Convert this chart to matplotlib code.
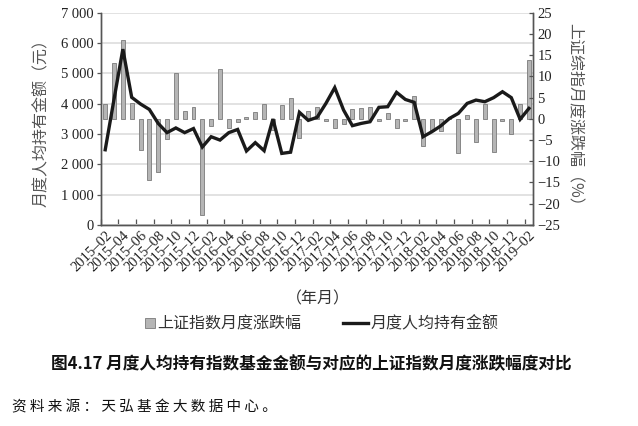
import numpy as np
import matplotlib
matplotlib.use("Agg")
import matplotlib.pyplot as plt
import matplotlib.patches as mpatches
from matplotlib.lines import Line2D
from matplotlib.legend_handler import HandlerPatch

CJK = ["Noto Sans CJK SC", "DejaVu Sans"]
SERIF = ["Liberation Serif", "DejaVu Serif"]
plt.rcParams["font.family"] = SERIF
plt.rcParams["axes.unicode_minus"] = True

# ── Data ──────────────────────────────────────────────────────────────────────
months = [
    "2015–02", "2015–03", "2015–04", "2015–05", "2015–06", "2015–07", "2015–08",
    "2015–09", "2015–10", "2015–11", "2015–12", "2016–01", "2016–02", "2016–03",
    "2016–04", "2016–05", "2016–06", "2016–07", "2016–08", "2016–09", "2016–10",
    "2016–11", "2016–12", "2017–01", "2017–02", "2017–03", "2017–04", "2017–05",
    "2017–06", "2017–07", "2017–08", "2017–09", "2017–10", "2017–11", "2017–12",
    "2018–01", "2018–02", "2018–03", "2018–04", "2018–05", "2018–06", "2018–07",
    "2018–08", "2018–09", "2018–10", "2018–11", "2018–12", "2019–01", "2019–02",
]
# 上证指数月度涨跌幅 (%)
index_pct = [3.4, 13.2, 18.5, 3.8, -7.3, -14.3, -12.5, -4.8, 10.8, 1.9, 2.7, -22.6,
             -1.8, 11.8, -2.2, -0.7, 0.4, 1.7, 3.6, -2.6, 3.3, 4.9, -4.6, 1.8,
             2.7, -0.6, -2.1, -1.2, 2.4, 2.5, 2.7, -0.4, 1.3, -2.2, -0.4, 5.3,
             -6.4, -2.8, -2.8, 0.4, -8.0, 1.0, -5.4, 3.6, -7.8, -0.6, -3.6, 3.6, 13.8]
# 月度人均持有金额 (元)
avg_holding = [2480, 4150, 5800, 4210, 3990, 3810, 3350, 3045, 3200, 3045, 3180, 2570,
               2910, 2800, 3045, 3150, 2440, 2715, 2450, 3495, 2360, 2400, 3715, 3450,
               3550, 4010, 4530, 3790, 3275, 3350, 3405, 3880, 3900, 4375, 4140, 4045,
               2910, 3075, 3265, 3515, 3680, 4010, 4120, 4065, 4200, 4395, 4200, 3485, 3845]
left_ticks = [0, 1000, 2000, 3000, 4000, 5000, 6000, 7000]
left_ticklabels = ["0", "1 000", "2 000", "3 000", "4 000", "5 000", "6 000", "7 000"]
right_ticks = [-25, -20, -15, -10, -5, 0, 5, 10, 15, 20, 25]

BAR_FACE = "#b5b5b5"
BAR_EDGE = "#7a7a7a"
LINE = "#1a1a1a"
AXIS = "#555555"
TEXT = "#222222"

x = np.arange(len(months))

fig = plt.figure(figsize=(6.38, 4.26), dpi=100)
pos = [0.158, 0.472, 0.678, 0.498]

# money axis (left) — holds grid and x axis
ax = fig.add_axes(pos)
ax.set_ylim(0, 7000)
ax.set_xlim(-0.5, len(months) - 0.5)
ax.set_yticks(left_ticks)
ax.set_yticklabels(left_ticklabels)
ax.yaxis.grid(True, color="#e2e2e2", lw=1.4)
ax.set_axisbelow(True)
ax.tick_params(axis="y", direction="out", length=3, width=0.9, color=AXIS,
               labelsize=10.5, labelcolor=TEXT, pad=2)

# month boundaries every two months get a tick, labels sit on the months
ax.set_xticks(np.arange(-0.5, len(months) - 1, 2))
ax.set_xticklabels([])
ax.tick_params(axis="x", which="major", direction="in", length=4, width=0.9, color=AXIS)
ax.set_xticks(x[::2], months[::2], minor=True)
ax.tick_params(axis="x", which="minor", length=0, pad=3, labelsize=10.5, labelcolor=TEXT)
for lab in ax.get_xticklabels(minor=True):
    lab.set_rotation(45)
    lab.set_ha("right")
    lab.set_va("top")
    lab.set_rotation_mode("anchor")

for side in ["left", "right", "bottom"]:
    ax.spines[side].set_color(AXIS)
    ax.spines[side].set_linewidth(1.0)
ax.spines["top"].set_visible(False)

ax.set_ylabel("月度人均持有金额（元）", family=CJK, fontsize=11.5, color="#555555",
              labelpad=8)

# percent axis (right) — bars
ax2 = ax.twinx()
ax2.bar(x, index_pct, width=0.45, color=BAR_FACE, edgecolor=BAR_EDGE, linewidth=0.6)
ax2.set_ylim(-25, 25)
ax2.set_yticks(right_ticks)
ax2.tick_params(axis="y", direction="in", length=3, width=0.9, color=AXIS,
                labelsize=10.5, labelcolor=TEXT, pad=3)
for side in ["left", "right", "bottom"]:
    ax2.spines[side].set_color(AXIS)
    ax2.spines[side].set_linewidth(1.0)
ax2.spines["top"].set_visible(False)
ax2.set_ylabel("上证综指月度涨跌幅（%）", family=CJK, fontsize=11.5, color="#555555",
               rotation=-90, va="bottom", labelpad=4)

# line on top, sharing the money scale
ax3 = fig.add_axes(pos, sharex=ax, sharey=ax)
ax3.axis("off")
ax3.plot(x, avg_holding, color=LINE, lw=2.4, solid_joinstyle="miter")

fig.text(318 / 638, 1 - 299 / 426, "（年月）", family=CJK, fontsize=11.5,
         color="#333333", ha="center", va="center")


def square_patch(legend, orig_handle, xdescent, ydescent, width, height, fontsize):
    s = height * 0.9
    return mpatches.Rectangle((width - s - xdescent, -ydescent + (height - s) / 2), s, s)


bar_handle = mpatches.Patch(facecolor=BAR_FACE, edgecolor=BAR_EDGE, linewidth=0.6)
line_handle = Line2D([], [], color=LINE, lw=2.4)
leg = fig.legend([bar_handle, line_handle], ["上证指数月度涨跌幅", "月度人均持有金额"],
                 loc="center", bbox_to_anchor=(314 / 638, 1 - 324 / 426), ncol=2,
                 frameon=False, handlelength=1.6, handletextpad=0.15,
                 columnspacing=2.6, prop={"family": CJK, "size": 11.5},
                 handler_map={mpatches.Patch: HandlerPatch(patch_func=square_patch)})
for t in leg.get_texts():
    t.set_color("#333333")

fig.text(311 / 638, 1 - 364 / 426,
         "图4.17 月度人均持有指数基金金额与对应的上证指数月度涨跌幅度对比",
         family=CJK, fontsize=12, fontweight="bold", color="#111111",
         ha="center", va="center")
fig.text(12 / 638, 1 - 407 / 426,
         "资 料 来 源 ： 天 弘 基 金 大 数 据 中 心 。",
         family=CJK, fontsize=10.5, color="#111111", ha="left", va="center")

fig.savefig("out.png", dpi=100)
